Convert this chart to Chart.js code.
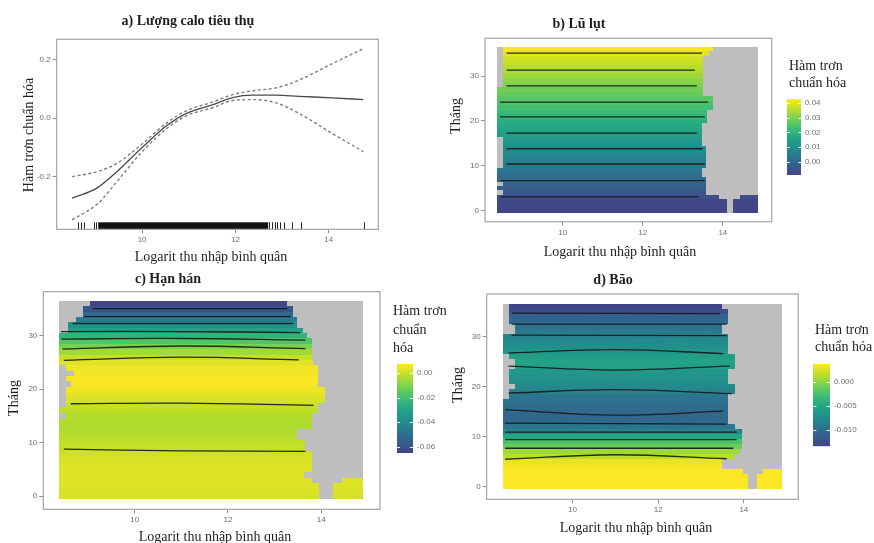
<!DOCTYPE html>
<html>
<head>
<meta charset="utf-8">
<script src="https://cdn.jsdelivr.net/npm/chart.js@4.4.1/dist/chart.umd.min.js"></script>
<style>
body { margin: 0; background: #fff; }
#fig { position: relative; width: 874px; height: 543px; overflow: hidden; font-family: "Liberation Serif", serif; color: #1e1e1e; }
#fig canvas { position: absolute; }
.t { position: absolute; white-space: nowrap; font-size: 14px; transform: translate(-50%, -50%); }
.ttl { font-weight: bold; }
.rot { transform: translate(-50%, -50%) rotate(-90deg); }
.leg { position: absolute; white-space: nowrap; font-size: 14px; }
</style>
</head>
<body>
<div id="fig">
  <canvas id="cA" width="400" height="270" style="left:0;top:0"></canvas>
  <canvas id="cB" width="340" height="270" style="left:440px;top:0"></canvas>
  <canvas id="cC" width="390" height="273" style="left:0;top:270px"></canvas>
  <canvas id="cD" width="370" height="273" style="left:440px;top:270px"></canvas>
  <canvas id="lB" width="70" height="95" style="left:780px;top:90px"></canvas>
  <canvas id="lC" width="60" height="110" style="left:390px;top:355px"></canvas>
  <canvas id="lD" width="69" height="100" style="left:805px;top:355px"></canvas>

  <div class="t ttl" style="left:188px;top:21px">a) Lượng calo tiêu thụ</div>
  <div class="t ttl" style="left:579px;top:24px">b) Lũ lụt</div>
  <div class="t ttl" style="left:168px;top:279px">c) Hạn hán</div>
  <div class="t ttl" style="left:613px;top:280px">d) Bão</div>

  <div class="t" style="left:211px;top:257px">Logarit thu nhập bình quân</div>
  <div class="t" style="left:620px;top:252px">Logarit thu nhập bình quân</div>
  <div class="t" style="left:215px;top:537px">Logarit thu nhập bình quân</div>
  <div class="t" style="left:636px;top:528px">Logarit thu nhập bình quân</div>

  <div class="t rot" style="left:29px;top:135px">Hàm trơn chuẩn hóa</div>
  <div class="t rot" style="left:456px;top:116px">Tháng</div>
  <div class="t rot" style="left:14px;top:398px">Tháng</div>
  <div class="t rot" style="left:458px;top:385px">Tháng</div>

  <div class="leg" style="left:789px;top:57px;line-height:17px">Hàm trơn<br>chuẩn hóa</div>
  <div class="leg" style="left:393px;top:302px;line-height:18.5px">Hàm trơn<br>chuẩn<br>hóa</div>
  <div class="leg" style="left:815px;top:321px;line-height:17px">Hàm trơn<br>chuẩn hóa</div>
</div>
<script>
// shared axis ticks
const incomeTicks = [10, 12, 14];
const monthTicks = [0, 10, 20, 30];
const months = [0, 1, 2, 3, 4, 5, 6, 7, 8, 9, 10, 11, 12, 13, 14, 15, 16, 17, 18,
                19, 20, 21, 22, 23, 24, 25, 26, 27, 28, 29, 30, 31, 32, 33, 34, 35, 36];

// a) calorie intake smooth with confidence band and rug
const calX     = [8.5, 9.04, 9.46, 10.0, 10.53, 10.95, 11.52, 11.94, 12.37, 12.87, 13.36, 14.07, 14.74];
const calFit   = [-0.272, -0.237, -0.182, -0.1, -0.025, 0.016, 0.046, 0.07, 0.078, 0.078, 0.074, 0.069, 0.063];
const calUpper = [-0.199, -0.182, -0.154, -0.088, -0.016, 0.025, 0.055, 0.08, 0.093, 0.103, 0.129, 0.185, 0.236];
const calLower = [-0.346, -0.292, -0.216, -0.114, -0.035, 0.008, 0.036, 0.06, 0.063, 0.052, 0.016, -0.052, -0.114];
const calRug = [8.62, 8.69, 8.76, 8.97, 9.02, 12.72, 12.78, 12.84, 12.9, 12.96, 13.03, 13.22, 13.4, 14.76];
const calRugBand = [9.06, 12.7];
const calTicks = [-0.2, 0.0, 0.2];

// b) flood
const floodRange = [-0.0088, 0.0427];
const floodLegendTicks = [0, 0.01, 0.02, 0.03, 0.04];
const floodGrid = [8.35, 14.88];
const floodValues = [-0.0086, -0.0084, -0.0078, -0.0062, -0.0040, -0.0025, -0.0010, 0.0004, 0.0018, 0.0032,
                     0.0047, 0.0061, 0.0075, 0.0089, 0.0103, 0.0117, 0.0131, 0.0146, 0.0160, 0.0174,
                     0.0188, 0.0202, 0.0216, 0.0231, 0.0245, 0.0259, 0.0273, 0.0287, 0.0301, 0.0315,
                     0.0330, 0.0344, 0.0358, 0.0372, 0.0386, 0.0400, 0.0418];
const floodLeft = [8.35, 8.35, 8.35, 8.35, 8.52, 8.35, 8.52, 8.35, 8.35, 8.35,
                   8.52, 8.52, 8.52, 8.52, 8.52, 8.52, 8.52, 8.35, 8.35, 8.35,
                   8.35, 8.35, 8.35, 8.35, 8.35, 8.35, 8.35, 8.35, 8.52, 8.52,
                   8.52, 8.52, 8.52, 8.52, 8.52, 8.52, 8.52];
const floodRight = [14.1, 14.1, 14.1, 13.9, 13.58, 13.58, 13.58, 13.58, 13.48, 13.48,
                    13.58, 13.58, 13.58, 13.58, 13.58, 13.48, 13.48, 13.48, 13.48, 13.48,
                    13.6, 13.6, 13.6, 13.75, 13.75, 13.75, 13.5, 13.5, 13.5, 13.5,
                    13.5, 13.5, 13.5, 13.5, 13.5, 13.65, 13.75];
const floodExtraMonths = [0, 1, 2, 3];
const floodExtraLeft = [14.25, 14.25, 14.25, 14.43];
const floodExtraRight = [14.88, 14.88, 14.88, 14.88];
const floodContours = [
  [[8.6, 35.1], [13.48, 35.1]],
  [[8.6, 31.3], [13.3, 31.3]],
  [[8.6, 27.8], [13.35, 27.8]],
  [[8.43, 24.2], [13.63, 24.2]],
  [[8.43, 20.9], [13.55, 20.9]],
  [[8.6, 17.3], [13.35, 17.3]],
  [[8.6, 13.8], [13.5, 13.8]],
  [[8.6, 10.4], [13.55, 10.4]],
  [[8.45, 6.7], [13.55, 6.7]],
  [[8.45, 3.1], [13.4, 3.1]]
];

// c) drought
const droughtRange = [-0.065, 0.0073];
const droughtLegendTicks = [-0.06, -0.04, -0.02, 0];
const droughtGrid = [8.38, 14.9];
const droughtValues = [0.0020, 0.0024, 0.0028, 0.0031, 0.0032, 0.0030, 0.0025, 0.0018, 0.0008, -0.0004,
                       -0.0015, -0.0026, -0.0034, -0.0036, -0.0034, -0.0028, -0.0018, -0.0004, 0.0018, 0.0038,
                       0.0055, 0.0066, 0.0068, 0.0062, 0.0050, 0.0030, -0.0005, -0.0055, -0.0110, -0.0175,
                       -0.0245, -0.0315, -0.0380, -0.0455, -0.0530, -0.0600, -0.0660];
const droughtLeft = [8.38, 8.38, 8.38, 8.38, 8.38, 8.38, 8.38, 8.38, 8.38, 8.38,
                     8.38, 8.38, 8.38, 8.38, 8.38, 8.53, 8.38, 8.53, 8.53, 8.53,
                     8.53, 8.63, 8.53, 8.7, 8.53, 8.38, 8.38, 8.38, 8.38, 8.38,
                     8.38, 8.57, 8.57, 8.75, 8.9, 8.9, 9.05];
const droughtRight = [13.96, 13.96, 13.96, 13.8, 13.62, 13.8, 13.8, 13.8, 13.8, 13.66,
                      13.66, 13.47, 13.47, 13.8, 13.8, 13.8, 13.94, 13.94, 14.08, 14.08,
                      14.08, 13.94, 13.94, 13.94, 13.94, 13.83, 13.8, 13.8, 13.8, 13.8,
                      13.7, 13.6, 13.47, 13.47, 13.4, 13.4, 13.27];
const droughtExtraMonths = [0, 1, 2, 3];
const droughtExtraLeft = [14.26, 14.26, 14.26, 14.45];
const droughtExtraRight = [14.9, 14.9, 14.9, 14.9];
const droughtContours = [
  [[9.1, 35.1], [13.27, 35.1]],
  [[8.91, 33.6], [13.34, 33.6]],
  [[8.67, 32.3], [13.4, 32.3]],
  [[8.42, 30.8], [11.0, 30.8], [13.55, 30.6]],
  [[8.42, 29.4], [11.0, 29.5], [13.66, 29.2]],
  [[8.45, 27.5], [11.0, 28.1], [13.66, 27.6]],
  [[8.48, 25.4], [11.0, 26.0], [13.52, 25.5]],
  [[8.63, 17.3], [11.0, 17.4], [13.83, 17.0]],
  [[8.48, 8.8], [11.0, 8.5], [13.66, 8.4]]
];

// d) storm
const stormRange = [-0.0133, 0.0037];
const stormLegendTicks = [-0.01, -0.005, 0];
const stormGrid = [8.37, 14.9];
const stormValues = [0.0036, 0.0037, 0.0037, 0.0036, 0.0034, 0.0030, 0.0015, 0.0006, -0.0012, -0.0024,
                     -0.0048, -0.0080, -0.0092, -0.0104, -0.0106, -0.0103, -0.0100, -0.0096, -0.0092, -0.0081,
                     -0.0076, -0.0072, -0.0068, -0.0064, -0.0056, -0.0054, -0.0057, -0.0064, -0.0070, -0.0075,
                     -0.0080, -0.0090, -0.0095, -0.0105, -0.0108, -0.0125, -0.0133];
const stormLeft = [8.37, 8.37, 8.37, 8.37, 8.37, 8.37, 8.37, 8.37, 8.37, 8.37,
                   8.37, 8.37, 8.37, 8.37, 8.37, 8.37, 8.37, 8.37, 8.51, 8.51,
                   8.67, 8.51, 8.51, 8.51, 8.67, 8.67, 8.51, 8.37, 8.37, 8.37,
                   8.37, 8.67, 8.67, 8.51, 8.51, 8.51, 8.51];
const stormRight = [14.1, 14.1, 14.1, 13.98, 13.5, 13.5, 13.76, 13.9, 13.95, 13.95,
                    13.95, 13.95, 13.79, 13.63, 13.63, 13.63, 13.63, 13.63, 13.63, 13.79,
                    13.79, 13.63, 13.63, 13.63, 13.79, 13.79, 13.79, 13.63, 13.63, 13.63,
                    13.63, 13.5, 13.5, 13.63, 13.63, 13.63, 13.49];
const stormExtraMonths = [0, 1, 2, 3];
const stormExtraLeft = [14.3, 14.3, 14.3, 14.44];
const stormExtraRight = [14.9, 14.9, 14.9, 14.9];
const stormContours = [
  [[8.6, 34.7], [13.44, 34.6]],
  [[8.58, 32.5], [13.6, 32.5]],
  [[8.58, 30.3], [13.6, 30.2]],
  [[8.51, 26.7], [11.0, 27.4], [13.52, 26.6]],
  [[8.51, 24.1], [11.0, 23.3], [13.67, 24.1]],
  [[8.51, 18.7], [11.0, 19.4], [13.72, 18.6]],
  [[8.43, 15.4], [11.0, 14.3], [13.52, 15.1]],
  [[8.43, 12.7], [11.0, 12.6], [13.6, 12.5]],
  [[8.43, 10.9], [13.83, 10.9]],
  [[8.43, 9.4], [13.83, 9.4]],
  [[8.43, 7.7], [13.75, 7.7]],
  [[8.43, 5.5], [11.0, 6.4], [13.6, 5.6]]
];

// viridis, starting a little above its darkest end
const viridisStops = ['#440154', '#482475', '#414487', '#355f8d', '#2a788e', '#21918c',
                      '#22a884', '#44bf70', '#7ad151', '#bddf26', '#fde725'];

function hexRgb(h) {
  return [parseInt(h.slice(1, 3), 16), parseInt(h.slice(3, 5), 16), parseInt(h.slice(5, 7), 16)];
}

function viridis(t) {
  t = Math.max(0, Math.min(1, t));
  const s = (0.2 + 0.8 * t) * (viridisStops.length - 1);
  const i = Math.min(Math.floor(s), viridisStops.length - 2);
  const f = s - i;
  const a = hexRgb(viridisStops[i]), b = hexRgb(viridisStops[i + 1]);
  const c = a.map((v, k) => Math.round(v + (b[k] - v) * f));
  return `rgb(${c[0]},${c[1]},${c[2]})`;
}

function fillColor(v, range) {
  return viridis((v - range[0]) / (range[1] - range[0]));
}

const tickFont = { family: 'Liberation Sans', size: 8 };

function axis(min, max, ticks, fmt, size, horizontal) {
  return {
    type: 'linear',
    min: min,
    max: max,
    afterBuildTicks: s => { s.ticks = ticks.map(v => ({ value: v })); },
    afterFit: s => { if (horizontal) s.height = size; else s.width = size; },
    grid: { drawOnChartArea: false, drawTicks: true, tickLength: 4, color: '#8f8f8f' },
    border: { display: false },
    ticks: { font: tickFont, color: '#6e6e6e', padding: 2, maxRotation: 0, callback: fmt }
  };
}

const framePlugin = {
  id: 'frame',
  afterDatasetsDraw(chart) {
    const a = chart.chartArea, ctx = chart.ctx;
    ctx.save();
    ctx.strokeStyle = '#a3a3a3';
    ctx.lineWidth = 1.2;
    ctx.strokeRect(a.left, a.top, a.right - a.left, a.bottom - a.top);
    ctx.restore();
  }
};

// rug marks along the bottom of panel a
const rugPlugin = {
  id: 'rug',
  afterDatasetsDraw(chart) {
    const { ctx, chartArea: a, scales: { x } } = chart;
    ctx.save();
    ctx.fillStyle = '#111';
    const bx0 = x.getPixelForValue(calRugBand[0]), bx1 = x.getPixelForValue(calRugBand[1]);
    ctx.fillRect(bx0, a.bottom - 7, bx1 - bx0, 7);
    ctx.strokeStyle = '#222';
    ctx.lineWidth = 1;
    calRug.forEach(v => {
      const px = Math.round(x.getPixelForValue(v)) + 0.5;
      ctx.beginPath();
      ctx.moveTo(px, a.bottom - 7);
      ctx.lineTo(px, a.bottom);
      ctx.stroke();
    });
    ctx.restore();
  }
};

// month x income raster: grey grid, then one coloured row per month
function heatLayer(h) {
  return {
    id: 'heat',
    beforeDatasetsDraw(chart) {
      const { ctx, scales: { x, y } } = chart;
      const box = (x0, x1, m0, m1, color) => {
        const px0 = Math.round(x.getPixelForValue(x0));
        const px1 = Math.round(x.getPixelForValue(x1));
        const py0 = Math.round(y.getPixelForValue(m1));
        const py1 = Math.round(y.getPixelForValue(m0));
        ctx.fillStyle = color;
        ctx.fillRect(px0, py0, px1 - px0, py1 - py0);
      };
      ctx.save();
      box(h.grid[0], h.grid[1], months[0] - 0.5, months[months.length - 1] + 0.5, '#bebebe');
      months.forEach((m, i) => {
        box(h.left[i], h.right[i], m - 0.5, m + 0.5, fillColor(h.values[i], h.range));
      });
      h.extraMonths.forEach((m, k) => {
        const i = months.indexOf(m);
        box(h.extraLeft[k], h.extraRight[k], m - 0.5, m + 0.5, fillColor(h.values[i], h.range));
      });
      ctx.restore();
    }
  };
}

function contourSets(list) {
  return list.map(pts => ({
    data: pts.map(p => ({ x: p[0], y: p[1] })),
    showLine: true,
    borderColor: 'rgba(22,22,22,0.9)',
    borderWidth: 1.3,
    pointRadius: 0,
    tension: 0.4
  }));
}

const baseOptions = {
  responsive: false,
  animation: false,
  events: [],
  plugins: { legend: { display: false }, tooltip: { enabled: false } }
};

// a) line panel
new Chart(document.getElementById('cA'), {
  type: 'scatter',
  data: {
    datasets: [
      { data: calX.map((x, i) => ({ x, y: calUpper[i] })), showLine: true, borderColor: '#7c7c7c',
        borderWidth: 1.4, borderDash: [3, 2.5], pointRadius: 0, cubicInterpolationMode: 'monotone' },
      { data: calX.map((x, i) => ({ x, y: calLower[i] })), showLine: true, borderColor: '#7c7c7c',
        borderWidth: 1.4, borderDash: [3, 2.5], pointRadius: 0, cubicInterpolationMode: 'monotone' },
      { data: calX.map((x, i) => ({ x, y: calFit[i] })), showLine: true, borderColor: '#4a4a4a',
        borderWidth: 1.3, pointRadius: 0, cubicInterpolationMode: 'monotone' }
    ]
  },
  options: {
    ...baseOptions,
    layout: { padding: { left: 0, top: 39.3, right: 21.7, bottom: 0 } },
    scales: {
      x: axis(8.17, 15.06, incomeTicks, v => v, 40.7, true),
      y: axis(-0.378, 0.268, calTicks, v => v.toFixed(1), 56.7, false)
    }
  },
  plugins: [rugPlugin, framePlugin]
});

function heatPanel(id, h, contours, layout) {
  new Chart(document.getElementById(id), {
    type: 'scatter',
    data: { datasets: contourSets(contours) },
    options: {
      ...baseOptions,
      layout: { padding: { left: 0, top: layout.top, right: layout.right, bottom: 0 } },
      scales: {
        x: axis(layout.x[0], layout.x[1], incomeTicks, v => v, layout.xh, true),
        y: axis(layout.y[0], layout.y[1], monthTicks, v => v, layout.yw, false)
      }
    },
    plugins: [heatLayer(h), framePlugin]
  });
}

heatPanel('cB', {
  grid: floodGrid, values: floodValues, range: floodRange, left: floodLeft, right: floodRight,
  extraMonths: floodExtraMonths, extraLeft: floodExtraLeft, extraRight: floodExtraRight
}, floodContours, { top: 38.3, right: 8.3, xh: 48.3, yw: 45, x: [8.06, 15.22], y: [-2.45, 38.4] });

heatPanel('cC', {
  grid: droughtGrid, values: droughtValues, range: droughtRange, left: droughtLeft, right: droughtRight,
  extraMonths: droughtExtraMonths, extraLeft: droughtExtraLeft, extraRight: droughtExtraRight
}, droughtContours, { top: 21.7, right: 10, xh: 33.7, yw: 43.3, x: [8.04, 15.26], y: [-2.44, 38.25] });

heatPanel('cD', {
  grid: stormGrid, values: stormValues, range: stormRange, left: stormLeft, right: stormRight,
  extraMonths: stormExtraMonths, extraLeft: stormExtraLeft, extraRight: stormExtraRight
}, stormContours, { top: 24, right: 11.7, xh: 43.7, yw: 46.7, x: [8.0, 15.27], y: [-2.5, 38.5] });

// colour bars
function barLayer(range) {
  return {
    id: 'bar',
    beforeDatasetsDraw(chart) {
      const { ctx, chartArea: a, scales: { y } } = chart;
      const top = y.getPixelForValue(range[1]), bottom = y.getPixelForValue(range[0]);
      const g = ctx.createLinearGradient(0, bottom, 0, top);
      for (let k = 0; k <= 20; k++) g.addColorStop(k / 20, viridis(k / 20));
      ctx.save();
      ctx.fillStyle = g;
      ctx.fillRect(a.left, top, a.right - a.left, bottom - top);
      const w = (a.right - a.left) / 5;
      ctx.strokeStyle = 'rgba(255,255,255,0.9)';
      ctx.lineWidth = 1;
      y.ticks.forEach(t => {
        const py = Math.round(y.getPixelForValue(t.value)) + 0.5;
        ctx.beginPath();
        ctx.moveTo(a.left, py); ctx.lineTo(a.left + w, py);
        ctx.moveTo(a.right - w, py); ctx.lineTo(a.right, py);
        ctx.stroke();
      });
      ctx.restore();
    }
  };
}

function colorbar(id, range, ticks, fmt, pad, axisWidth) {
  new Chart(document.getElementById(id), {
    type: 'scatter',
    data: { datasets: [] },
    options: {
      ...baseOptions,
      layout: { padding: pad },
      scales: {
        x: { display: false, min: 0, max: 1 },
        y: {
          position: 'right',
          min: range[0],
          max: range[1],
          afterBuildTicks: s => { s.ticks = ticks.map(v => ({ value: v })); },
          afterFit: s => { s.width = axisWidth; },
          grid: { display: false, drawTicks: false },
          border: { display: false },
          ticks: { font: tickFont, color: '#6e6e6e', padding: 4, callback: fmt }
        }
      }
    },
    plugins: [barLayer(range)]
  });
}

colorbar('lB', floodRange, floodLegendTicks, v => v.toFixed(2),
  { left: 7, top: 9, right: 0, bottom: 10 }, 49);
colorbar('lC', droughtRange, droughtLegendTicks, v => v.toFixed(2),
  { left: 7, top: 9, right: 0, bottom: 12 }, 37);
colorbar('lD', stormRange, stormLegendTicks, v => v.toFixed(3),
  { left: 8, top: 9, right: 0, bottom: 8 }, 44);
</script>
</body>
</html>
